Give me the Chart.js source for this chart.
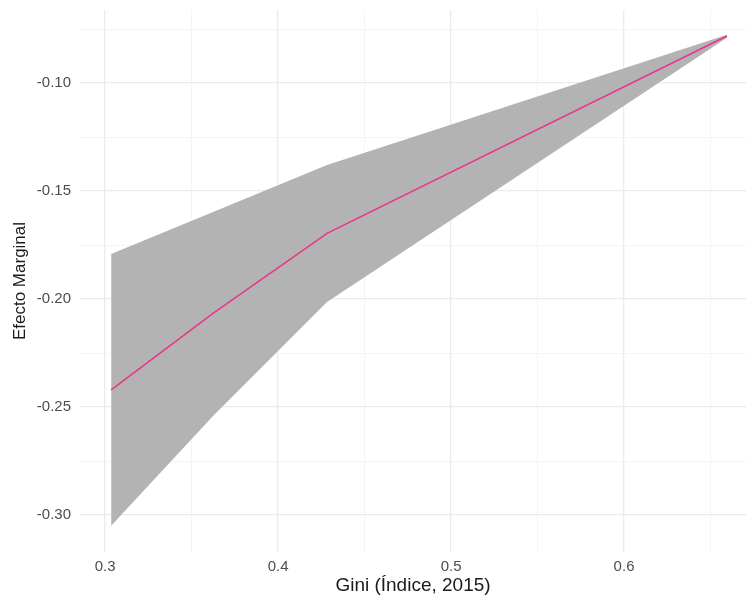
<!DOCTYPE html>
<html>
<head>
<meta charset="utf-8">
<script src="https://cdn.jsdelivr.net/npm/chart.js@4/dist/chart.umd.min.js"></script>
<style>
  html, body { margin: 0; padding: 0; background: #fff; }
  #wrap { width: 746px; height: 598px; }
</style>
</head>
<body>
<div id="wrap"><canvas id="c" width="746" height="598"></canvas></div>
<script>
// Gini values where the marginal effect was evaluated
const gini = [0.3035, 0.3624, 0.4283, 0.6595];
const efecto = [-0.2421, -0.2066, -0.1696, -0.0782];
const upper = [-0.1792, -0.1597, -0.1380, -0.0776];
const lower = [-0.3050, -0.2542, -0.2014, -0.0790];

const xTicks = [0.30, 0.35, 0.40, 0.45, 0.50, 0.55, 0.60, 0.65];
const yTicks = [-0.300, -0.275, -0.250, -0.225, -0.200, -0.175, -0.150, -0.125, -0.100, -0.075];

const pts = (ys) => gini.map((g, i) => ({ x: g, y: ys[i] }));
const isMajor = (v, step) => Math.abs(v / step - Math.round(v / step)) < 1e-6;

const fontFam = '"Liberation Sans", Arial, Helvetica, sans-serif';

new Chart(document.getElementById('c'), {
  type: 'line',
  data: {
    datasets: [
      { data: pts(upper), order: 2, borderWidth: 0, pointRadius: 0, fill: '+1', backgroundColor: '#b3b3b3', borderColor: 'rgba(0,0,0,0)', tension: 0 },
      { data: pts(lower), order: 2, borderWidth: 0, pointRadius: 0, fill: false, borderColor: 'rgba(0,0,0,0)', tension: 0 },
      { data: pts(efecto), order: 0, borderWidth: 1.6, pointRadius: 0, fill: false, borderColor: '#e8368c', tension: 0 }
    ]
  },
  options: {
    responsive: false,
    animation: false,
    layout: { padding: { top: 10, left: 0, right: 0, bottom: 0 } },
    plugins: { legend: { display: false }, tooltip: { enabled: false }, filler: { drawTime: 'beforeDatasetsDraw' } },
    scales: {
      x: {
        type: 'linear',
        min: 0.2855,
        max: 0.6705,
        border: { display: false },
        grid: {
          drawTicks: false,
          color: (ctx) => isMajor(ctx.tick.value, 0.1) ? '#ebebeb' : '#f3f3f3',
          lineWidth: (ctx) => isMajor(ctx.tick.value, 0.1) ? 1.3 : 0.9
        },
        afterBuildTicks: (s) => { s.ticks = xTicks.map(v => ({ value: v })); },
        afterFit: (s) => { s.height = 46; s.paddingLeft = 0; s.paddingRight = 0; },
        ticks: {
          padding: 6,
          color: '#4d4d4d',
          font: { family: fontFam, size: 15 },
          autoSkip: false,
          maxRotation: 0,
          callback: (v) => isMajor(v, 0.1) ? v.toFixed(1) : ''
        },
        title: {
          display: true,
          text: 'Gini (Índice, 2015)',
          color: '#1a1a1a',
          font: { family: fontFam, size: 19 },
          padding: { top: 0, bottom: 1 }
        }
      },
      y: {
        type: 'linear',
        min: -0.3171,
        max: -0.0662,
        border: { display: false },
        grid: {
          drawTicks: false,
          color: (ctx) => isMajor(ctx.tick.value, 0.05) ? '#ebebeb' : '#f3f3f3',
          lineWidth: (ctx) => isMajor(ctx.tick.value, 0.05) ? 1.3 : 0.9
        },
        afterBuildTicks: (s) => { s.ticks = yTicks.map(v => ({ value: v })); },
        afterFit: (s) => { s.width = 80; s.paddingTop = 0; s.paddingBottom = 0; },
        ticks: {
          padding: 9,
          color: '#4d4d4d',
          font: { family: fontFam, size: 15 },
          autoSkip: false,
          callback: (v) => isMajor(v, 0.05) ? v.toFixed(2) : ''
        },
        title: {
          display: true,
          text: 'Efecto Marginal',
          color: '#1a1a1a',
          font: { family: fontFam, size: 17 },
          padding: { top: 10, bottom: 0 }
        }
      }
    }
  }
});
</script>
</body>
</html>
